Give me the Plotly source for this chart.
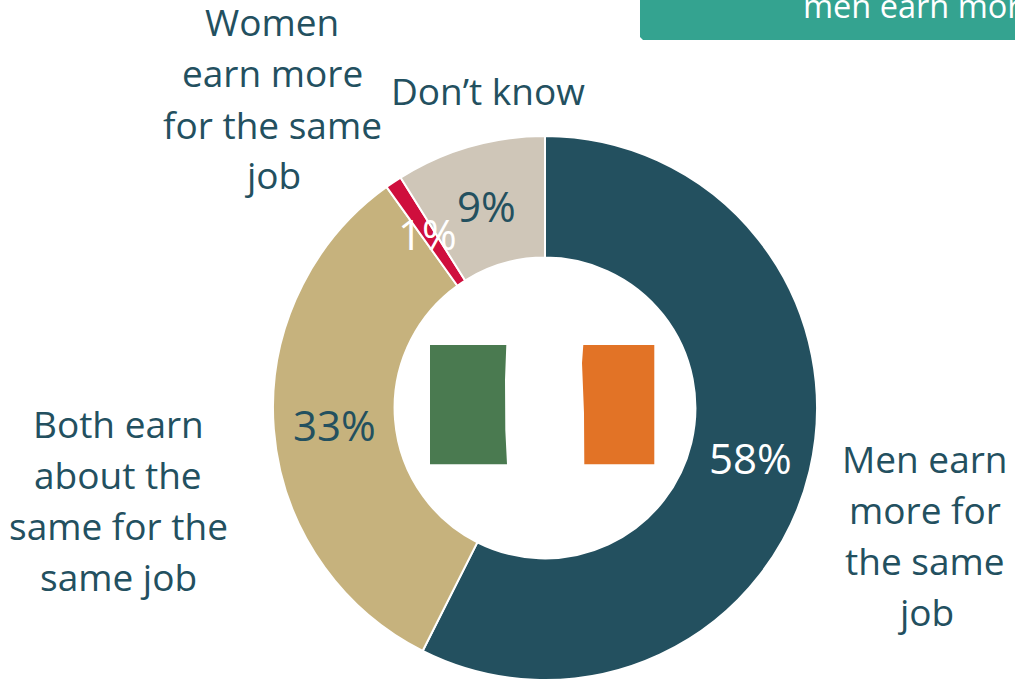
import plotly.graph_objects as go

W, H = 1015, 680
categories = ["Men earn more for the same job", "Both earn about the same for the same job",
              "Women earn more for the same job", "Don’t know"]
values = [58, 33, 1, 9]
colors = ["#23505F", "#C6B27D", "#CF0F3D", "#CFC6B8"]

cat_labels = [
    ("Women", 272, 22), ("earn more", 272, 73), ("for the same", 272, 124), ("job", 272, 175),
    ("Don’t know", 488, 91),
    ("Both earn", 118, 423), ("about the", 118, 474), ("same for the", 118, 525), ("same job", 118, 576),
    ("Men earn", 925, 458), ("more for", 925, 509), ("the same", 925, 560), ("job", 925, 611),
]
pct_labels = [("58%", 750, 457, "#FFFFFF"), ("33%", 334, 424, "#23505F"),
              ("1%", 427, 233, "#FFFFFF"), ("9%", 486, 205, "#23505F")]

def px(x): return x / W
def py(y): return 1 - y / H

fig = go.Figure(go.Pie(
    labels=categories, values=values, hole=0.553, sort=False, direction="clockwise", rotation=0,
    marker=dict(colors=colors, line=dict(color="#FFFFFF", width=2)), textinfo="none", hoverinfo="label+value",
    showlegend=False,
    domain=dict(x=[px(273), px(817)], y=[py(680), py(136)]),
))

def poly(points, color):
    d = "M " + " L ".join(f"{px(x):.5f} {py(y):.5f}" for x, y in points) + " Z"
    return dict(type="path", xref="paper", yref="paper", path=d, fillcolor=color, line=dict(width=0), layer="above")

shapes = [
    poly([(640, -5), (1016, -5), (1016, 40), (643, 40), (640, 37)], "#34A390"),
    poly([(430, 345), (506.3, 345), (505, 380), (505.3, 430), (507, 464.3), (430, 464.3)], "#4A7A50"),
    poly([(583.3, 345), (654.3, 345), (654.3, 464.3), (584.3, 464.3), (584, 413), (582, 363)], "#E27326"),
]

anns = []
for t, x, y in cat_labels:
    anns.append(dict(text=t, x=px(x), y=py(y), xref="paper", yref="paper", showarrow=False,
                     xanchor="center", yanchor="middle", font=dict(size=37, color="#23505F")))
for t, x, y, c in pct_labels:
    anns.append(dict(text=t, x=px(x), y=py(y), xref="paper", yref="paper", showarrow=False,
                     xanchor="center", yanchor="middle", font=dict(size=42, color=c)))
anns.append(dict(text="men earn more", x=px(801), y=py(6), xref="paper", yref="paper", showarrow=False,
                 xanchor="left", yanchor="middle", font=dict(size=32.5, color="#FFFFFF")))

fig.update_layout(width=W, height=H, margin=dict(l=0, r=0, t=0, b=0), paper_bgcolor="#FFFFFF",
                  font=dict(family="Open Sans"), shapes=shapes, annotations=anns)
fig.write_html("out.html", config=dict(displayModeBar=False),
               post_script="document.body.style.margin='0';document.body.style.overflow='hidden';")
